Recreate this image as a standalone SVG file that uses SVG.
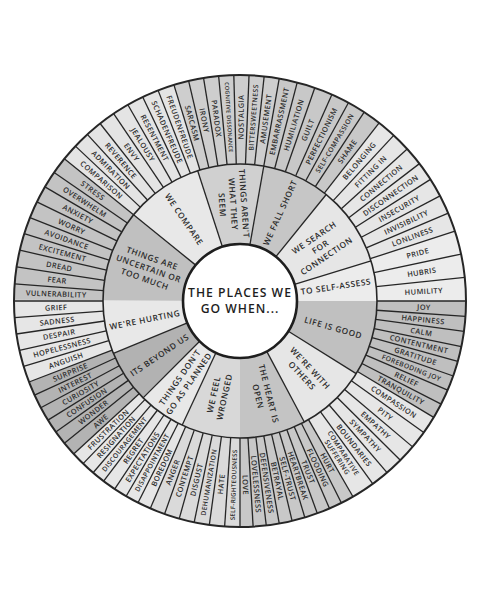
<svg xmlns="http://www.w3.org/2000/svg" width="480" height="600" viewBox="0 0 480 600">
<style>
.o{font-family:"Open Sans","Liberation Sans",sans-serif;font-size:7.4px;letter-spacing:.4px;fill:#2e2e2e;text-anchor:middle;font-weight:600}
.c{font-family:"Open Sans","Liberation Sans",sans-serif;font-size:8.3px;letter-spacing:.6px;fill:#2a2a2a;text-anchor:middle;font-weight:600}
.t{font-family:"Open Sans","Liberation Sans",sans-serif;font-size:12.2px;letter-spacing:1px;fill:#1e1e1e;text-anchor:middle;font-weight:600}
.ro{fill:none;stroke-width:89}
.ri{fill:none;stroke-width:80}
.w{stroke:#262626;stroke-width:1.3}
.s6{font-size:6.8px}
.s5{font-size:5.6px;letter-spacing:.2px}
.s62{font-size:6.2px;letter-spacing:.3px}
</style>
<rect width="480" height="600" fill="#fff"/>
<g transform="translate(240 301)">
<g id="outer-ring">
<circle class="ro" r="181.5" pathLength="360" stroke-dasharray="39.3 320.7" transform="rotate(180)" stroke="#c3c3c3"/>
<circle class="ro" r="181.5" pathLength="360" stroke-dasharray="34.3 325.7" transform="rotate(219)" stroke="#e4e4e4"/>
<circle class="ro" r="181.5" pathLength="360" stroke-dasharray="27.3 332.7" transform="rotate(253)" stroke="#cecece"/>
<circle class="ro" r="181.5" pathLength="360" stroke-dasharray="28.3 331.7" transform="rotate(-80)" stroke="#c8c8c8"/>
<circle class="ro" r="181.5" pathLength="360" stroke-dasharray="34.3 325.7" transform="rotate(-52)" stroke="#e6e6e6"/>
<circle class="ro" r="181.5" pathLength="360" stroke-dasharray="18.3 341.7" transform="rotate(-18)" stroke="#ececec"/>
<circle class="ro" r="181.5" pathLength="360" stroke-dasharray="31.3 328.7" transform="rotate(0)" stroke="#bfbfbf"/>
<circle class="ro" r="181.5" pathLength="360" stroke-dasharray="29.3 330.7" transform="rotate(31)" stroke="#e6e6e6"/>
<circle class="ro" r="181.5" pathLength="360" stroke-dasharray="30.3 329.7" transform="rotate(60)" stroke="#c8c8c8"/>
<circle class="ro" r="181.5" pathLength="360" stroke-dasharray="23.7 336.3" transform="rotate(90)" stroke="#dadada"/>
<circle class="ro" r="181.5" pathLength="360" stroke-dasharray="24.3 335.7" transform="rotate(113.4)" stroke="#e6e6e6"/>
<circle class="ro" r="181.5" pathLength="360" stroke-dasharray="21.9 338.1" transform="rotate(137.4)" stroke="#b3b3b3"/>
<circle class="ro" r="181.5" pathLength="360" stroke-dasharray="21.3 338.7" transform="rotate(159)" stroke="#e6e6e6"/>
</g>
<g id="connectors">
<g class="w">
<line y1="-137" y2="-226" transform="rotate(274.33)"/><line y1="-137" y2="-226" transform="rotate(278.67)"/><line y1="-137" y2="-226" transform="rotate(283)"/><line y1="-137" y2="-226" transform="rotate(287.33)"/><line y1="-137" y2="-226" transform="rotate(291.67)"/><line y1="-137" y2="-226" transform="rotate(296)"/><line y1="-137" y2="-226" transform="rotate(300.33)"/><line y1="-137" y2="-226" transform="rotate(304.67)"/>
<line y1="-137" y2="-226" transform="rotate(309)"/>
<line y1="-137" y2="-226" transform="rotate(313.25)"/><line y1="-137" y2="-226" transform="rotate(317.5)"/><line y1="-137" y2="-226" transform="rotate(321.75)"/><line y1="-137" y2="-226" transform="rotate(326)"/><line y1="-137" y2="-226" transform="rotate(330.25)"/><line y1="-137" y2="-226" transform="rotate(334.5)"/><line y1="-137" y2="-226" transform="rotate(338.75)"/>
<line y1="-137" y2="-226" transform="rotate(343)"/>
<line y1="-137" y2="-226" transform="rotate(346.86)"/><line y1="-137" y2="-226" transform="rotate(350.71)"/><line y1="-137" y2="-226" transform="rotate(354.57)"/><line y1="-137" y2="-226" transform="rotate(358.43)"/><line y1="-137" y2="-226" transform="rotate(2.29)"/><line y1="-137" y2="-226" transform="rotate(6.14)"/>
<line y1="-137" y2="-226" transform="rotate(10)"/>
<line y1="-137" y2="-226" transform="rotate(14.67)"/><line y1="-137" y2="-226" transform="rotate(19.33)"/><line y1="-137" y2="-226" transform="rotate(24)"/><line y1="-137" y2="-226" transform="rotate(28.67)"/><line y1="-137" y2="-226" transform="rotate(33.33)"/>
<line y1="-137" y2="-226" transform="rotate(38)"/>
<line y1="-137" y2="-226" transform="rotate(42.86)"/><line y1="-137" y2="-226" transform="rotate(47.71)"/><line y1="-137" y2="-226" transform="rotate(52.57)"/><line y1="-137" y2="-226" transform="rotate(57.43)"/><line y1="-137" y2="-226" transform="rotate(62.29)"/><line y1="-137" y2="-226" transform="rotate(67.14)"/>
<line y1="-137" y2="-226" transform="rotate(72)"/>
<line y1="-137" y2="-226" transform="rotate(78)"/><line y1="-137" y2="-226" transform="rotate(84)"/>
<line y1="-137" y2="-226" transform="rotate(93.88)"/><line y1="-137" y2="-226" transform="rotate(97.75)"/><line y1="-137" y2="-226" transform="rotate(101.63)"/><line y1="-137" y2="-226" transform="rotate(105.5)"/><line y1="-137" y2="-226" transform="rotate(109.38)"/><line y1="-137" y2="-226" transform="rotate(113.25)"/><line y1="-137" y2="-226" transform="rotate(117.13)"/>
<line y1="-137" y2="-226" transform="rotate(121)"/>
<line y1="-137" y2="-226" transform="rotate(125.6)"/><line y1="-137" y2="-226" transform="rotate(130.2)"/><line y1="-137" y2="-226" transform="rotate(134.8)"/><line y1="-137" y2="-226" transform="rotate(139.4)"/><line y1="-137" y2="-226" transform="rotate(144)"/>
<line y1="-137" y2="-226" transform="rotate(150)"/>
<line y1="-137" y2="-226" transform="rotate(153.33)"/><line y1="-137" y2="-226" transform="rotate(156.67)"/><line y1="-137" y2="-226" transform="rotate(160)"/><line y1="-137" y2="-226" transform="rotate(163.33)"/><line y1="-137" y2="-226" transform="rotate(166.67)"/><line y1="-137" y2="-226" transform="rotate(170)"/><line y1="-137" y2="-226" transform="rotate(173.33)"/><line y1="-137" y2="-226" transform="rotate(176.67)"/>
<line y1="-137" y2="-226" transform="rotate(183.9)"/><line y1="-137" y2="-226" transform="rotate(187.8)"/><line y1="-137" y2="-226" transform="rotate(191.7)"/><line y1="-137" y2="-226" transform="rotate(195.6)"/><line y1="-137" y2="-226" transform="rotate(199.5)"/>
<line y1="-137" y2="-226" transform="rotate(203.4)"/>
<line y1="-137" y2="-226" transform="rotate(206.83)"/><line y1="-137" y2="-226" transform="rotate(210.26)"/><line y1="-137" y2="-226" transform="rotate(213.69)"/><line y1="-137" y2="-226" transform="rotate(217.11)"/><line y1="-137" y2="-226" transform="rotate(220.54)"/><line y1="-137" y2="-226" transform="rotate(223.97)"/>
<line y1="-137" y2="-226" transform="rotate(227.4)"/>
<line y1="-137" y2="-226" transform="rotate(231)"/><line y1="-137" y2="-226" transform="rotate(234.6)"/><line y1="-137" y2="-226" transform="rotate(238.2)"/><line y1="-137" y2="-226" transform="rotate(241.8)"/><line y1="-137" y2="-226" transform="rotate(245.4)"/>
<line y1="-137" y2="-226" transform="rotate(249)"/>
<line y1="-137" y2="-226" transform="rotate(253.2)"/><line y1="-137" y2="-226" transform="rotate(257.4)"/><line y1="-137" y2="-226" transform="rotate(261.6)"/><line y1="-137" y2="-226" transform="rotate(265.8)"/>
<line y1="-57" y2="-226" transform="rotate(90)"/><line y1="-57" y2="-226" transform="rotate(180)"/><line y1="-57" y2="-226" transform="rotate(270)"/>
</g>
</g>
<g id="inner-ring">
<circle class="ri" r="97" pathLength="360" stroke-dasharray="39.3 320.7" transform="rotate(180)" stroke="#c0c0c0"/>
<circle class="ri" r="97" pathLength="360" stroke-dasharray="33.3 326.7" transform="rotate(219)" stroke="#e8e8e8"/>
<circle class="ri" r="97" pathLength="360" stroke-dasharray="28.3 331.7" transform="rotate(252)" stroke="#d0d0d0"/>
<circle class="ri" r="97" pathLength="360" stroke-dasharray="29.3 330.7" transform="rotate(-80)" stroke="#c6c6c6"/>
<circle class="ri" r="97" pathLength="360" stroke-dasharray="34.3 325.7" transform="rotate(-51)" stroke="#e6e6e6"/>
<circle class="ri" r="97" pathLength="360" stroke-dasharray="17.3 342.7" transform="rotate(-17)" stroke="#ececec"/>
<circle class="ri" r="97" pathLength="360" stroke-dasharray="32.3 327.7" transform="rotate(0)" stroke="#c0c0c0"/>
<circle class="ri" r="97" pathLength="360" stroke-dasharray="30.3 329.7" transform="rotate(32)" stroke="#e6e6e6"/>
<circle class="ri" r="97" pathLength="360" stroke-dasharray="28.3 331.7" transform="rotate(62)" stroke="#c4c4c4"/>
<circle class="ri" r="97" pathLength="360" stroke-dasharray="25.3 334.7" transform="rotate(90)" stroke="#d8d8d8"/>
<circle class="ri" r="97" pathLength="360" stroke-dasharray="20.3 339.7" transform="rotate(115)" stroke="#e8e8e8"/>
<circle class="ri" r="97" pathLength="360" stroke-dasharray="22.8 337.2" transform="rotate(135)" stroke="#b2b2b2"/>
<circle class="ri" r="97" pathLength="360" stroke-dasharray="22.8 337.2" transform="rotate(157.5)" stroke="#e8e8e8"/>
<g class="w">
<line y1="-57" y2="-137" transform="rotate(309)"/><line y1="-57" y2="-137" transform="rotate(342)"/><line y1="-57" y2="-137" transform="rotate(10)"/><line y1="-57" y2="-137" transform="rotate(39)"/><line y1="-57" y2="-137" transform="rotate(73)"/><line y1="-57" y2="-137" transform="rotate(122)"/><line y1="-57" y2="-137" transform="rotate(152)"/><line y1="-57" y2="-137" transform="rotate(205)"/><line y1="-57" y2="-137" transform="rotate(225)"/><line y1="-57" y2="-137" transform="rotate(247.5)"/>
</g>
</g>
<circle r="226" fill="none" stroke="#262626" stroke-width="2"/>
<circle r="137" fill="none" stroke="#262626" stroke-width="1.6"/>
<g id="center">
<circle r="57" fill="#fff" stroke="#1e1e1e" stroke-width="2.6"/>
<text class="t" y="-4">THE PLACES WE</text>
<text class="t" y="12">GO WHEN...</text>
</g>
<g id="categories">
<g id="cat-uncertain"><text class="c" transform="rotate(19.5) translate(-97 0)"><tspan x="0" y="-8">THINGS ARE</tspan><tspan x="0" y="3">UNCERTAIN OR</tspan><tspan x="0" y="14">TOO MUCH</tspan></text></g>
<g id="cat-compare"><text class="c" transform="rotate(55.5) translate(-99 0)" dy=".35em">WE COMPARE</text></g>
<g id="cat-arent"><text class="c" transform="rotate(86) translate(-97 0)"><tspan x="0" y="-8">THINGS AREN'T</tspan><tspan x="0" y="3">WHAT THEY</tspan><tspan x="0" y="14">SEEM</tspan></text></g>
<g id="cat-fallshort"><text class="c" transform="rotate(-65.5) translate(97 0)" dy=".35em">WE FALL SHORT</text></g>
<g id="cat-search"><text class="c" transform="rotate(-34) translate(97 0)"><tspan x="0" y="-8">WE SEARCH</tspan><tspan x="0" y="3">FOR</tspan><tspan x="0" y="14">CONNECTION</tspan></text></g>
<g id="cat-selfassess"><text class="c" transform="rotate(-8.5) translate(97 0)" dy=".35em">TO SELF-ASSESS</text></g>
<g id="cat-lifegood"><text class="c" transform="rotate(16) translate(97 0)" dy=".35em">LIFE IS GOOD</text></g>
<g id="cat-others"><text class="c" transform="rotate(47) translate(97 0)"><tspan x="0" y="-2.5">WE'RE WITH</tspan><tspan x="0" y="8.5">OTHERS</tspan></text></g>
<g id="cat-heart"><text class="c" transform="rotate(76) translate(97 0)"><tspan x="0" y="-2.5">THE HEART IS</tspan><tspan x="0" y="8.5">OPEN</tspan></text></g>
<g id="cat-wronged"><text class="c" transform="rotate(-77.5) translate(-97 0)"><tspan x="0" y="-2.5">WE FEEL</tspan><tspan x="0" y="8.5">WRONGED</tspan></text></g>
<g id="cat-dontgo"><text class="c" transform="rotate(-55) translate(-97 0)"><tspan x="0" y="-2.5">THINGS DON'T</tspan><tspan x="0" y="8.5">GO AS PLANNED</tspan></text></g>
<g id="cat-beyond"><text class="c" transform="rotate(-34) translate(-97 0)" dy=".35em">ITS BEYOND US</text></g>
<g id="cat-hurting"><text class="c" transform="rotate(-11.25) translate(-97 0)" dy=".35em">WE'RE HURTING</text></g>
</g>
<g id="emotions">
<g id="e-vulnerability"><text class="o" dy=".35em" transform="rotate(2.17) translate(-184 0)">VULNERABILITY</text></g>
<g id="e-fear"><text class="o" dy=".35em" transform="rotate(6.5) translate(-184 0)">FEAR</text></g>
<g id="e-dread"><text class="o" dy=".35em" transform="rotate(10.83) translate(-184 0)">DREAD</text></g>
<g id="e-excitement"><text class="o" dy=".35em" transform="rotate(15.17) translate(-184 0)">EXCITEMENT</text></g>
<g id="e-avoidance"><text class="o" dy=".35em" transform="rotate(19.5) translate(-184 0)">AVOIDANCE</text></g>
<g id="e-worry"><text class="o" dy=".35em" transform="rotate(23.83) translate(-184 0)">WORRY</text></g>
<g id="e-anxiety"><text class="o" dy=".35em" transform="rotate(28.17) translate(-184 0)">ANXIETY</text></g>
<g id="e-overwhelm"><text class="o" dy=".35em" transform="rotate(32.5) translate(-184 0)">OVERWHELM</text></g>
<g id="e-stress"><text class="o" dy=".35em" transform="rotate(36.83) translate(-184 0)">STRESS</text></g>
<g id="e-comparison"><text class="o" dy=".35em" transform="rotate(41.13) translate(-184 0)">COMPARISON</text></g>
<g id="e-admiration"><text class="o" dy=".35em" transform="rotate(45.38) translate(-184 0)">ADMIRATION</text></g>
<g id="e-reverence"><text class="o" dy=".35em" transform="rotate(49.63) translate(-184 0)">REVERENCE</text></g>
<g id="e-envy"><text class="o" dy=".35em" transform="rotate(53.88) translate(-184 0)">ENVY</text></g>
<g id="e-jealousy"><text class="o" dy=".35em" transform="rotate(58.13) translate(-184 0)">JEALOUSY</text></g>
<g id="e-resentment"><text class="o" dy=".35em" transform="rotate(62.38) translate(-184 0)">RESENTMENT</text></g>
<g id="e-schadenfreude"><text class="o" dy=".35em" transform="rotate(66.63) translate(-184 0)">SCHADENFREUDE</text></g>
<g id="e-freudenfreude"><text class="o" dy=".35em" transform="rotate(70.88) translate(-184 0)">FREUDENFREUDE</text></g>
<g id="e-sarcasm"><text class="o" dy=".35em" transform="rotate(74.93) translate(-184 0)">SARCASM</text></g>
<g id="e-irony"><text class="o" dy=".35em" transform="rotate(78.79) translate(-184 0)">IRONY</text></g>
<g id="e-paradox"><text class="o" dy=".35em" transform="rotate(82.64) translate(-184 0)">PARADOX</text></g>
<g id="e-cognitive"><text class="o s5" dy=".35em" transform="rotate(86.5) translate(-184 0)">COGNITIVE DISSONANCE</text></g>
<g id="e-nostalgia"><text class="o" dy=".35em" transform="rotate(-89.64) translate(184 0)">NOSTALGIA</text></g>
<g id="e-bittersweetness"><text class="o s6" dy=".35em" transform="rotate(-85.79) translate(184 0)">BITTERSWEETNESS</text></g>
<g id="e-amusement"><text class="o" dy=".35em" transform="rotate(-81.93) translate(184 0)">AMUSEMENT</text></g>
<g id="e-embarrassment"><text class="o" dy=".35em" transform="rotate(-77.67) translate(184 0)">EMBARRASSMENT</text></g>
<g id="e-humiliation"><text class="o" dy=".35em" transform="rotate(-73) translate(184 0)">HUMILIATION</text></g>
<g id="e-guilt"><text class="o" dy=".35em" transform="rotate(-68.33) translate(184 0)">GUILT</text></g>
<g id="e-perfectionism"><text class="o" dy=".35em" transform="rotate(-63.67) translate(184 0)">PERFECTIONISM</text></g>
<g id="e-selfcompassion"><text class="o s6" dy=".35em" transform="rotate(-59) translate(184 0)">SELF-COMPASSION</text></g>
<g id="e-shame"><text class="o" dy=".35em" transform="rotate(-54.33) translate(184 0)">SHAME</text></g>
<g id="e-belonging"><text class="o" dy=".35em" transform="rotate(-49.57) translate(184 0)">BELONGING</text></g>
<g id="e-fittingin"><text class="o" dy=".35em" transform="rotate(-44.71) translate(184 0)">FITTING IN</text></g>
<g id="e-connection"><text class="o" dy=".35em" transform="rotate(-39.86) translate(184 0)">CONNECTION</text></g>
<g id="e-disconnection"><text class="o" dy=".35em" transform="rotate(-35) translate(184 0)">DISCONNECTION</text></g>
<g id="e-insecurity"><text class="o" dy=".35em" transform="rotate(-30.14) translate(184 0)">INSECURITY</text></g>
<g id="e-invisibility"><text class="o" dy=".35em" transform="rotate(-25.29) translate(184 0)">INVISIBILITY</text></g>
<g id="e-lonliness"><text class="o" dy=".35em" transform="rotate(-20.43) translate(184 0)">LONLINESS</text></g>
<g id="e-pride"><text class="o" dy=".35em" transform="rotate(-15) translate(184 0)">PRIDE</text></g>
<g id="e-hubris"><text class="o" dy=".35em" transform="rotate(-9) translate(184 0)">HUBRIS</text></g>
<g id="e-humility"><text class="o" dy=".35em" transform="rotate(-3) translate(184 0)">HUMILITY</text></g>
<g id="e-joy"><text class="o" dy=".35em" transform="rotate(1.94) translate(184 0)">JOY</text></g>
<g id="e-happiness"><text class="o" dy=".35em" transform="rotate(5.81) translate(184 0)">HAPPINESS</text></g>
<g id="e-calm"><text class="o" dy=".35em" transform="rotate(9.69) translate(184 0)">CALM</text></g>
<g id="e-contentment"><text class="o" dy=".35em" transform="rotate(13.56) translate(184 0)">CONTENTMENT</text></g>
<g id="e-gratitude"><text class="o" dy=".35em" transform="rotate(17.44) translate(184 0)">GRATITUDE</text></g>
<g id="e-forebodingjoy"><text class="o s6" dy=".35em" transform="rotate(21.31) translate(184 0)">FOREBODING JOY</text></g>
<g id="e-relief"><text class="o" dy=".35em" transform="rotate(25.19) translate(184 0)">RELIEF</text></g>
<g id="e-tranquility"><text class="o" dy=".35em" transform="rotate(29.06) translate(184 0)">TRANQUILITY</text></g>
<g id="e-compassion"><text class="o" dy=".35em" transform="rotate(33.3) translate(184 0)">COMPASSION</text></g>
<g id="e-pity"><text class="o" dy=".35em" transform="rotate(37.9) translate(184 0)">PITY</text></g>
<g id="e-empathy"><text class="o" dy=".35em" transform="rotate(42.5) translate(184 0)">EMPATHY</text></g>
<g id="e-sympathy"><text class="o" dy=".35em" transform="rotate(47.1) translate(184 0)">SYMPATHY</text></g>
<g id="e-boundaries"><text class="o" dy=".35em" transform="rotate(51.7) translate(184 0)">BOUNDARIES</text></g>
<g id="e-comparativesuffering"><text class="o s6" transform="rotate(57) translate(184 0)"><tspan x="0" y="-1.4">COMPARATIVE</tspan><tspan x="0" y="6">SUFFERING</tspan></text></g>
<g id="e-hurt"><text class="o" dy=".35em" transform="rotate(61.67) translate(184 0)">HURT</text></g>
<g id="e-flooding"><text class="o" dy=".35em" transform="rotate(65) translate(184 0)">FLOODING</text></g>
<g id="e-trust"><text class="o" dy=".35em" transform="rotate(68.33) translate(184 0)">TRUST</text></g>
<g id="e-heartbreak"><text class="o" dy=".35em" transform="rotate(71.67) translate(184 0)">HEARTBREAK</text></g>
<g id="e-selftrust"><text class="o" dy=".35em" transform="rotate(75) translate(184 0)">SELF-TRUST</text></g>
<g id="e-betrayal"><text class="o" dy=".35em" transform="rotate(78.33) translate(184 0)">BETRAYAL</text></g>
<g id="e-defensiveness"><text class="o" dy=".35em" transform="rotate(81.67) translate(184 0)">DEFENSIVENESS</text></g>
<g id="e-lovelessness"><text class="o" dy=".35em" transform="rotate(85) translate(184 0)">LOVELESSNESS</text></g>
<g id="e-love"><text class="o" dy=".35em" transform="rotate(88.33) translate(184 0)">LOVE</text></g>
<g id="e-selfrighteousness"><text class="o s62" dy=".35em" transform="rotate(-88.05) translate(-184 0)">SELF-RIGHTEOUSNESS</text></g>
<g id="e-hate"><text class="o" dy=".35em" transform="rotate(-84.15) translate(-184 0)">HATE</text></g>
<g id="e-dehumanization"><text class="o s6" dy=".35em" transform="rotate(-80.25) translate(-184 0)">DEHUMANIZATION</text></g>
<g id="e-disgust"><text class="o" dy=".35em" transform="rotate(-76.35) translate(-184 0)">DISGUST</text></g>
<g id="e-contempt"><text class="o" dy=".35em" transform="rotate(-72.45) translate(-184 0)">CONTEMPT</text></g>
<g id="e-anger"><text class="o" dy=".35em" transform="rotate(-68.55) translate(-184 0)">ANGER</text></g>
<g id="e-boredom"><text class="o" dy=".35em" transform="rotate(-64.89) translate(-184 0)">BOREDOM</text></g>
<g id="e-disappointment"><text class="o s6" dy=".35em" transform="rotate(-61.46) translate(-184 0)">DISAPPOINTMENT</text></g>
<g id="e-expectations"><text class="o" dy=".35em" transform="rotate(-58.03) translate(-184 0)">EXPECTATIONS</text></g>
<g id="e-regret"><text class="o" dy=".35em" transform="rotate(-54.6) translate(-184 0)">REGRET</text></g>
<g id="e-discouragement"><text class="o s6" dy=".35em" transform="rotate(-51.17) translate(-184 0)">DISCOURAGEMENT</text></g>
<g id="e-resignation"><text class="o" dy=".35em" transform="rotate(-47.74) translate(-184 0)">RESIGNATION</text></g>
<g id="e-frustration"><text class="o" dy=".35em" transform="rotate(-44.31) translate(-184 0)">FRUSTRATION</text></g>
<g id="e-awe"><text class="o" dy=".35em" transform="rotate(-40.8) translate(-184 0)">AWE</text></g>
<g id="e-wonder"><text class="o" dy=".35em" transform="rotate(-37.2) translate(-184 0)">WONDER</text></g>
<g id="e-confusion"><text class="o" dy=".35em" transform="rotate(-33.6) translate(-184 0)">CONFUSION</text></g>
<g id="e-curiosity"><text class="o" dy=".35em" transform="rotate(-30) translate(-184 0)">CURIOSITY</text></g>
<g id="e-interest"><text class="o" dy=".35em" transform="rotate(-26.4) translate(-184 0)">INTEREST</text></g>
<g id="e-surprise"><text class="o" dy=".35em" transform="rotate(-22.8) translate(-184 0)">SURPRISE</text></g>
<g id="e-anguish"><text class="o" dy=".35em" transform="rotate(-18.9) translate(-184 0)">ANGUISH</text></g>
<g id="e-hopelessness"><text class="o" dy=".35em" transform="rotate(-14.7) translate(-184 0)">HOPELESSNESS</text></g>
<g id="e-despair"><text class="o" dy=".35em" transform="rotate(-10.5) translate(-184 0)">DESPAIR</text></g>
<g id="e-sadness"><text class="o" dy=".35em" transform="rotate(-6.3) translate(-184 0)">SADNESS</text></g>
<g id="e-grief"><text class="o" dy=".35em" transform="rotate(-2.1) translate(-184 0)">GRIEF</text></g>
</g>
</g>
</svg>
